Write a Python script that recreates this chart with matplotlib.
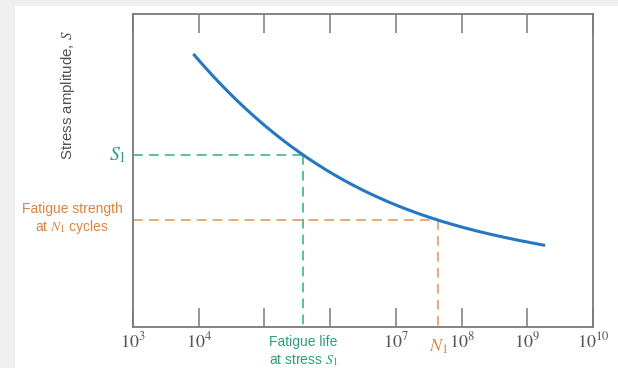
import matplotlib
matplotlib.use("Agg")
import numpy as np
import matplotlib.pyplot as plt
from matplotlib.patches import Rectangle

plt.rcParams["mathtext.fontset"] = "stix"

# S-N curve: number of cycles vs. stress amplitude (arbitrary units)
cycles = [8.28e3, 1.667e4, 5.38e4, 1.726e5, 3.908e5, 9.95e5, 4.05e6,
          5.75e6, 1.30e7, 4.44e7, 1.35e8, 4.33e8, 1.87e9]
stress = [0.876, 0.800, 0.693, 0.597, 0.549, 0.491, 0.435,
          0.416, 0.384, 0.342, 0.304, 0.280, 0.267]

# marked operating points
s1_level = 0.549
s1_life = 3.908e5
n1_cycles = 4.44e7
n1_strength = 0.342

decades = [1e3, 1e4, 1e5, 1e6, 1e7, 1e8, 1e9, 1e10]
decade_labels = [r"$10^{3}$", r"$10^{4}$", "", "",
                 r"$10^{7}$", r"$10^{8}$", r"$10^{9}$", r"$10^{10}$"]

BLUE = "#2677c2"
GREEN_LINE = "#5cbf9f"
GREEN_TEXT = "#2a9e7a"
ORANGE_LINE = "#eaa874"
ORANGE_TEXT = "#d9843d"
SPINE = "#7a7a7a"

fig = plt.figure(figsize=(6.18, 3.68), dpi=100)
fig.patch.set_facecolor("#efefef")
fig.patches.append(Rectangle((15 / 618, 0), 1, 1 - 6 / 368, transform=fig.transFigure,
                             facecolor="white", edgecolor="none", zorder=-5))

ax = fig.add_axes([133 / 618, 1 - 327 / 368, 460 / 618, 313 / 368])
ax.set_zorder(2)
ax.set_xscale("log")
ax.set_xlim(1e3, 1e10)
ax.set_ylim(0, 1)

# smooth trend through the measured points (cubic in log N)
logn = np.log10(cycles)
coef = np.polyfit(logn, stress, 3)
grid = np.linspace(logn[0], logn[-1], 200)
ax.plot(10 ** grid, np.polyval(coef, grid), color=BLUE, lw=2.2,
        solid_capstyle="butt", zorder=3)

dash = dict(lw=1.4, dashes=(5, 3.2), zorder=2)
# S1 guide lines
ax.plot([1e3, s1_life], [s1_level, s1_level], color=GREEN_LINE, **dash)
ax.plot([s1_life, s1_life], [s1_level, 0], color=GREEN_LINE, **dash)
# N1 guide lines
ax.plot([1e3, n1_cycles], [n1_strength, n1_strength], color=ORANGE_LINE, **dash)
ax.plot([n1_cycles, n1_cycles], [n1_strength, 0], color=ORANGE_LINE, **dash)

for sp in ax.spines.values():
    sp.set_color(SPINE)
    sp.set_linewidth(1.3)

ax.set_xticks(decades)
ax.set_xticklabels(decade_labels)
ax.xaxis.set_minor_locator(matplotlib.ticker.NullLocator())
ax.tick_params(axis="x", which="major", direction="in", length=13.5, width=1.1,
               color=SPINE, top=True, labelsize=13, labelcolor="#555555", pad=3)
ax.set_yticks([])

# annotations on the axes
ax.text(n1_cycles, -0.035, r"$N_1$", transform=ax.get_xaxis_transform(),
        ha="center", va="top", fontsize=13, color=ORANGE_TEXT)
ax.text(s1_life, -0.025, "Fatigue life", transform=ax.get_xaxis_transform(),
        ha="center", va="top", fontsize=10, color=GREEN_TEXT,
        family="Liberation Sans")
ax.text(s1_life, -0.082, r"at stress $S_1$", transform=ax.get_xaxis_transform(),
        ha="center", va="top", fontsize=10, color=GREEN_TEXT,
        family="Liberation Sans")

ax.text(-0.015, s1_level, r"$S_1$", transform=ax.get_yaxis_transform(),
        ha="right", va="center", fontsize=14, color=GREEN_TEXT)
fig.text(72 / 618, 1 - 209 / 368, "Fatigue strength", ha="center", va="center",
         fontsize=10, color=ORANGE_TEXT, family="Liberation Sans")
fig.text(72 / 618, 1 - 227 / 368, r"at $N_1$ cycles", ha="center", va="center",
         fontsize=10, color=ORANGE_TEXT, family="Liberation Sans")

fig.text(68 / 618, 1 - 95 / 368, "Stress amplitude, $S$", rotation=90,
         ha="center", va="center", fontsize=10.8, color="#505050",
         family="Liberation Sans")

fig.savefig("out.png", dpi=100, facecolor=fig.get_facecolor())
